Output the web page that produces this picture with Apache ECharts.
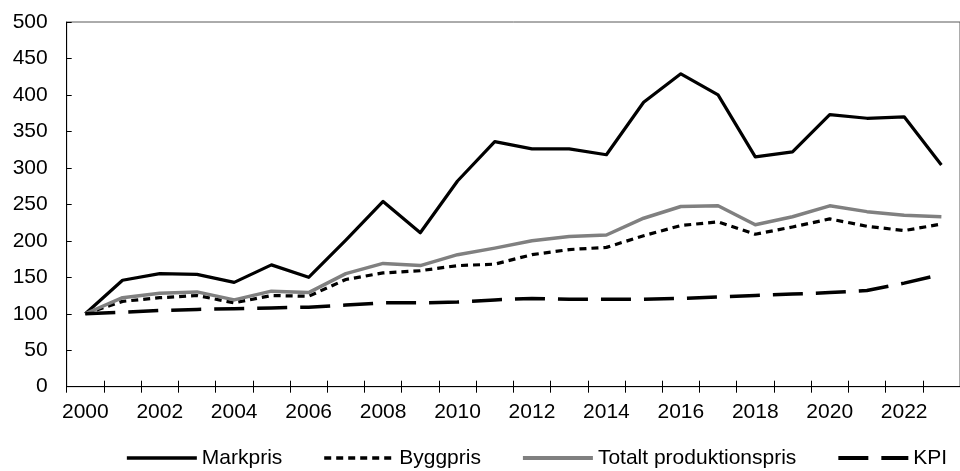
<!DOCTYPE html>
<html>
<head>
<meta charset="utf-8">
<script src="https://cdn.jsdelivr.net/npm/echarts@6/dist/echarts.min.js"></script>
<style>
  html, body { margin: 0; padding: 0; background: #fff; }
  #chart { width: 960px; height: 471px; }
</style>
</head>
<body>
<div id="chart"></div>
<script>
// Index series, 2000 = 100
const years = ['2000','2001','2002','2003','2004','2005','2006','2007','2008','2009','2010','2011',
               '2012','2013','2014','2015','2016','2017','2018','2019','2020','2021','2022','2023'];

const markpris = [100,146,155,154,143,167,150,201,254,211,282,336,326,326,318,390,429,400,315,322,373,368,370,304];
const byggpris = [100,117,122,125,115,125,124,147,156,159,166,168,181,188,191,207,221,226,209,219,230,220,214,223];
const totaltProduktionspris = [100,122,128,130,119,131,129,155,169,166,181,190,200,206,208,231,247,248,222,233,248,240,235,233];
const kpi = [100,102,104.5,106,107,108,109,112,115,115,116,119,121,120,120,120,121,123,125,127,129,132,142,154];

const yTicks = { min: 0, max: 500, interval: 50 };

const font = 'Liberation Sans, Arial, sans-serif';

// Line styles shared by the plotted series and their legend keys
const styles = {
  'Markpris': { color: '#000', width: 3.2, type: 'solid' },
  'Byggpris': { color: '#000', width: 3.2, type: [7, 5] },
  'Totalt produktionspris': { color: '#808080', width: 3.5, type: 'solid' },
  'KPI': { color: '#000', width: 3.5, type: [30, 13] }
};

const chart = echarts.init(document.getElementById('chart'), null, { renderer: 'canvas' });

function line(name, data) {
  const s = styles[name];
  return {
    name, type: 'line', data, symbol: 'none',
    itemStyle: { color: s.color },
    lineStyle: { color: s.color, width: s.width, type: s.type, join: 'round' }
  };
}

chart.setOption({
  backgroundColor: '#ffffff',
  animation: false,
  grid: {
    left: 66.7, top: 22, width: 906, height: 364.7,
    show: true, borderColor: '#595959', borderWidth: 1, backgroundColor: 'transparent'
  },
  legend: {
    left: 120, top: 442.5,
    itemWidth: 70, itemHeight: 14, itemGap: 40,
    itemStyle: { opacity: 0 },
    textStyle: { fontFamily: font, fontSize: 21, color: '#000' },
    data: Object.keys(styles).map(name => ({
      name,
      lineStyle: { width: styles[name].width + 0.5, color: styles[name].color, type: styles[name].type }
    }))
  },
  xAxis: [{
    type: 'category',
    data: years,
    boundaryGap: true,
    axisLine: { lineStyle: { color: '#000', width: 1 } },
    axisTick: { show: true, interval: 0, length: 6, lineStyle: { color: '#000' } },
    axisLabel: { interval: 1, margin: 15, fontFamily: font, fontSize: 21, color: '#000' },
    splitLine: { show: false }
  }, {
    type: 'category',
    data: years,
    position: 'bottom',
    boundaryGap: true,
    axisLine: { show: false },
    axisTick: { show: true, inside: true, interval: 0, length: 6, lineStyle: { color: '#000' } },
    axisLabel: { show: false },
    splitLine: { show: false }
  }],
  yAxis: {
    type: 'value',
    min: yTicks.min, max: yTicks.max, interval: yTicks.interval,
    axisLine: { show: true, lineStyle: { color: '#000', width: 1 } },
    axisTick: { show: true, inside: true, length: 5, lineStyle: { color: '#000' } },
    axisLabel: { margin: 19, fontFamily: font, fontSize: 21, color: '#000' },
    splitLine: { show: false }
  },
  series: [
    line('Markpris', markpris),
    line('Byggpris', byggpris),
    line('Totalt produktionspris', totaltProduktionspris),
    line('KPI', kpi)
  ]
});
</script>
</body>
</html>
